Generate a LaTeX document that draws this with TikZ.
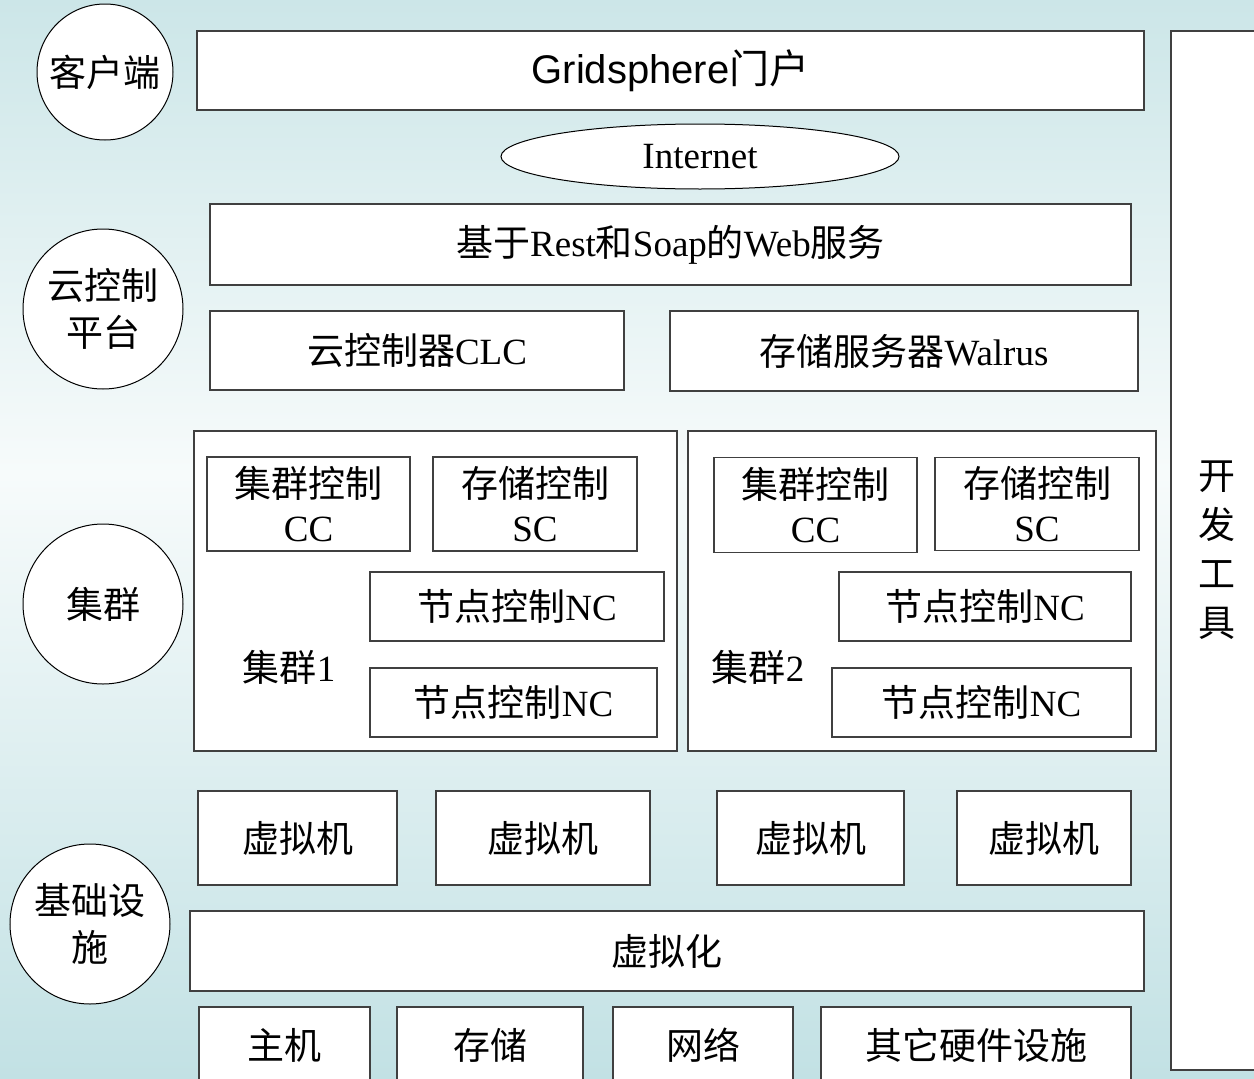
\documentclass[tikz,border=0pt]{standalone}
\usepackage{fontspec}
\setmainfont{Liberation Serif}
\newfontfamily\cjk{Noto Sans CJK SC}
\newfontfamily\arialf{Liberation Sans}
\newcommand\zh[1]{{\cjk #1}}
\usetikzlibrary{shapes.geometric}
\definecolor{bgtop}{RGB}{204,230,232}
\definecolor{bgmid}{RGB}{247,251,251}
\definecolor{bgbot}{RGB}{194,225,228}
\definecolor{boxline}{RGB}{64,64,64}
\pgfdeclareverticalshading{bgshade}{100bp}{color(0bp)=(bgbot); color(25bp)=(bgbot); color(53bp)=(bgmid); color(75bp)=(bgtop); color(100bp)=(bgtop)}
\tikzset{
  bx/.style={draw=boxline, fill=white, line width=1.2pt, inner sep=0pt, outer sep=0pt,
    align=center, font=\fontsize{37}{44}\selectfont},
  circ/.style={draw=black, fill=white, line width=1pt, circle, inner sep=0pt,
    align=center, font=\fontsize{37}{47}\selectfont},
  lbl/.style={inner sep=0pt, align=center, font=\fontsize{37}{46}\selectfont},
}
\begin{document}
\begin{tikzpicture}[x=1pt,y=-1pt]
\useasboundingbox (0,0) rectangle (1254,1079);
\clip (0,0) rectangle (1254,1079);
\shade[shading=bgshade] (0,0) rectangle (1254,1079);

% left circles
\node[circ, minimum size=136] (client) at (105,72) {\zh{客户端}};
\node[circ, minimum size=160] (cloud) at (103,309) {\zh{云控制}\\\zh{平台}};
\node[circ, minimum size=160] (cluster) at (103,604) {\zh{集群}};
\node[circ, minimum size=160] (infra) at (90,924) {\zh{基础设}\\\zh{施}};

% top layers
\node[bx, minimum width=947, minimum height=79] (grid) at (670.5,70.5)
  {\fontsize{40}{46}\selectfont\arialf Gridsphere\zh{门户}};
\node[draw=black, fill=white, line width=1pt, ellipse, inner sep=0pt,
  minimum width=398, minimum height=65, font=\fontsize{37}{44}\selectfont] (inet) at (700,156.5) {Internet};
\node[bx, minimum width=921, minimum height=81] (web) at (670.5,244.5)
  {\zh{基于}Rest\zh{和}Soap\zh{的}Web\zh{服务}};
\node[bx, minimum width=414, minimum height=79] (clc) at (417,350.5) {\zh{云控制器}CLC};
\node[bx, minimum width=468, minimum height=80] (walrus) at (904,351) {\zh{存储服务器}Walrus};

% cluster 1
\node[bx, minimum width=483, minimum height=320] (cl1) at (435.5,591) {};
\node[bx, minimum width=203, minimum height=94] (cc1) at (308.5,504) {\zh{集群控制}\\CC};
\node[bx, minimum width=204, minimum height=94] (sc1) at (535,504) {\zh{存储控制}\\SC};
\node[bx, minimum width=294, minimum height=69] (nc1a) at (517,606.5) {\zh{节点控制}NC};
\node[bx, minimum width=287, minimum height=69] (nc1b) at (513.5,702.5) {\zh{节点控制}NC};
\node[lbl] (cl1lbl) at (289,667) {\zh{集群}1};

% cluster 2
\node[bx, minimum width=468, minimum height=320] (cl2) at (922,591) {};
\node[bx, minimum width=203, minimum height=95] (cc2) at (815.5,505) {\zh{集群控制}\\CC};
\node[bx, minimum width=204, minimum height=93] (sc2) at (1037,504) {\zh{存储控制}\\SC};
\node[bx, minimum width=292, minimum height=69] (nc2a) at (985,606.5) {\zh{节点控制}NC};
\node[bx, minimum width=299, minimum height=69] (nc2b) at (981.5,702.5) {\zh{节点控制}NC};
\node[lbl] (cl2lbl) at (758,667) {\zh{集群}2};

% virtual machines
\node[bx, minimum width=199, minimum height=94] (vm1) at (297.5,838) {\zh{虚拟机}};
\node[bx, minimum width=214, minimum height=94] (vm2) at (543,838) {\zh{虚拟机}};
\node[bx, minimum width=187, minimum height=94] (vm3) at (810.5,838) {\zh{虚拟机}};
\node[bx, minimum width=174, minimum height=94] (vm4) at (1044,838) {\zh{虚拟机}};

\node[bx, minimum width=954, minimum height=80] (virt) at (667,951) {\zh{虚拟化}};

% hardware
\node[bx, minimum width=171, minimum height=76] (host) at (284.5,1045) {\zh{主机}};
\node[bx, minimum width=186, minimum height=76] (stor) at (490,1045) {\zh{存储}};
\node[bx, minimum width=180, minimum height=76] (net) at (703,1045) {\zh{网络}};
\node[bx, minimum width=310, minimum height=76] (other) at (976,1045) {\zh{其它硬件设施}};

% dev tools
\draw[draw=boxline, fill=white, line width=1.2pt] (1270,31) -- (1171,31) -- (1171,1070) -- (1270,1070);
\node[lbl, font=\fontsize{37}{49}\selectfont] (dev) at (1217,550) {\zh{开}\\\zh{发}\\\zh{工}\\\zh{具}};
\end{tikzpicture}
\end{document}
